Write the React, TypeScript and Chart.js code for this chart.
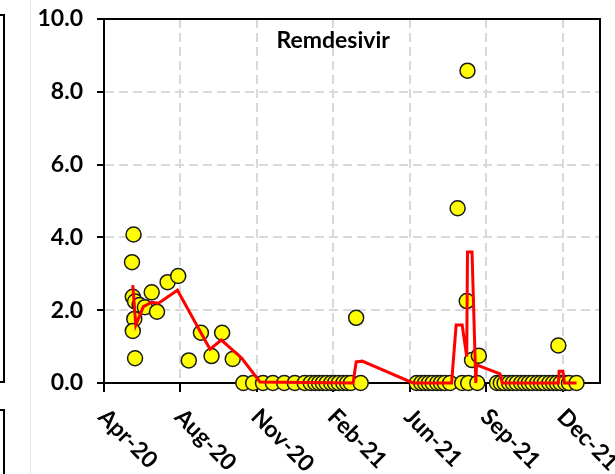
import React, { useEffect, useRef } from "react";
import { Chart, registerables } from "chart.js";

Chart.register(...registerables);

// Axis: days counted from the first tick (Apr-20); one tick every 101 days
const tickDays = [0, 101, 202, 303, 404, 505, 606];
const tickLabels = ["Apr-20", "Aug-20", "Nov-20", "Feb-21", "Jun-21", "Sep-21", "Dec-21"];
const xMaxDay = 655;
const yMin = 0;
const yMax = 10;
const yStep = 2;
const titleText = "Remdesivir";

// Individual observations (yellow circles)
const sampleDays = [
  37, 39, 38, 41, 47, 54, 63, 70, 40, 38, 41, 84, 98, 112, 128, 142, 156, 170,
  184, 197, 210, 223, 238, 252, 265, 273, 279, 284, 289, 294, 300, 305, 310, 316, 321, 326, 333, 339,
  413, 419, 424, 429, 434, 440, 445, 450, 457, 467, 473, 479, 480, 481, 486, 493, 495,
  519, 524, 529, 535, 540, 545, 551, 556, 561, 566, 572, 577, 582, 588, 593, 598, 600, 603, 609, 614, 624,
];
const sampleValues = [
  3.32, 4.08, 2.37, 2.24, 2.14, 2.08, 2.49, 1.96, 1.76, 1.43, 0.68, 2.77, 2.94, 0.62, 1.38, 0.74, 1.38, 0.66,
  0, 0, 0, 0, 0, 0, 0, 0, 0, 0, 0, 0, 0, 0, 0, 0, 0, 0, 1.79, 0,
  0, 0, 0, 0, 0, 0, 0, 0, 0, 4.8, 0, 2.25, 8.58, 0, 0.63, 0, 0.75,
  0, 0, 0, 0, 0, 0, 0, 0, 0, 0, 0, 0, 0, 0, 0, 0, 1.03, 0, 0, 0, 0,
];

// Trend line (red)
const trendDays = [
  38, 42, 52, 63, 72, 97, 140, 155, 182, 206, 329, 333, 341, 408, 459, 465, 473, 479, 480, 486, 491, 492, 523, 526,
  600, 601, 606, 608, 624,
];
const trendValues = [
  2.69, 1.59, 2.1, 2.22, 2.19, 2.55, 0.93, 1.18, 0.68, 0.03, 0, 0.58, 0.6, 0, 0, 1.59, 1.59, 0.73, 3.6, 3.6, 0, 0.5,
  0.25, 0, 0, 0.32, 0.32, 0, 0,
];

const FONT = "Lato";

const decorPlugin = {
  id: "decor",
  afterDraw(chart: any) {
    const { ctx, chartArea } = chart;
    const { left, right, top, bottom } = chartArea;
    ctx.save();
    // top and right frame of the plot area
    ctx.strokeStyle = "#000";
    ctx.lineWidth = 2;
    ctx.setLineDash([]);
    ctx.beginPath();
    ctx.moveTo(left - 1, top);
    ctx.lineTo(right, top);
    ctx.lineTo(right, bottom);
    ctx.stroke();

    // title inside the plot
    ctx.fillStyle = "#000";
    ctx.font = `bold 23px ${FONT}`;
    ctx.textAlign = "center";
    ctx.textBaseline = "alphabetic";
    ctx.fillText(titleText, left + (right - left) * 0.462, top + 29);

    // rotated x tick labels (clockwise 45deg, starting at the tick)
    const xs = chart.scales.x;
    ctx.font = `bold 23px ${FONT}`;
    ctx.textAlign = "left";
    ctx.textBaseline = "middle";
    xs.ticks.forEach((t: any, i: number) => {
      const px = xs.getPixelForValue(t.value);
      ctx.save();
      ctx.translate(px - 2, bottom + 30);
      ctx.rotate(Math.PI / 4);
      ctx.fillText(tickLabels[i] ?? "", 0, 0);
      ctx.restore();
    });
    ctx.restore();
  },
};

export default function App() {
  const canvasRef = useRef<HTMLCanvasElement | null>(null);

  useEffect(() => {
    if (!canvasRef.current) return;
    const chart = new Chart(canvasRef.current, {
      type: "scatter",
      data: {
        datasets: [
          {
            type: "line",
            label: "trend",
            data: trendDays.map((d, i) => ({ x: d, y: trendValues[i] })),
            borderColor: "#FF0000",
            borderWidth: 3,
            pointRadius: 0,
            fill: false,
            tension: 0,
            clip: false as any,
            order: 0,
          } as any,
          {
            type: "scatter",
            label: titleText,
            data: sampleDays.map((d, i) => ({ x: d, y: sampleValues[i] })),
            backgroundColor: "#FFFF00",
            borderColor: "#1a1a1a",
            borderWidth: 1.5,
            pointRadius: 7.5,
            clip: false as any,
            order: 1,
          } as any,
        ],
      },
      options: {
        responsive: false,
        animation: false,
        layout: { padding: { left: 0, top: 19, right: 15, bottom: 0 } },
        plugins: {
          legend: { display: false },
          tooltip: { enabled: false },
          title: { display: false },
        },
        scales: {
          x: {
            type: "linear",
            min: 0,
            max: xMaxDay,
            afterBuildTicks: (s: any) => {
              s.ticks = tickDays.map((v) => ({ value: v }));
            },
            afterFit: (s: any) => {
              s.height = 91;
              s.paddingLeft = 0;
              s.paddingRight = 0;
            },
            ticks: { display: false },
            grid: {
              color: (c: any) => (c.tick && c.tick.value === 0 ? "rgba(0,0,0,0)" : "#d9d9d9"),
              lineWidth: 2,
              drawTicks: true,
              tickLength: 9,
              tickColor: "#000",
              tickWidth: 2,
            },
            border: { display: true, color: "#000", width: 2, dash: [9, 5] },
          },
          y: {
            min: yMin,
            max: yMax,
            afterFit: (s: any) => {
              s.width = 104;
              s.paddingTop = 0;
              s.paddingBottom = 0;
            },
            ticks: {
              stepSize: yStep,
              callback: (v: any) => Number(v).toFixed(1),
              font: { family: FONT, size: 23, weight: "bold" },
              color: "#000",
              padding: 14,
            },
            grid: {
              color: (c: any) =>
                c.tick && (c.tick.value === yMin || c.tick.value === yMax) ? "rgba(0,0,0,0)" : "#d9d9d9",
              lineWidth: 2,
              tickLength: 7,
              tickColor: "#000",
              tickWidth: 2,
            },
            border: { display: true, color: "#000", width: 2, dash: [9, 5] },
          },
        },
      } as any,
      plugins: [decorPlugin],
    });
    return () => chart.destroy();
  }, []);

  return (
    <div
      style={{
        position: "absolute",
        left: 0,
        top: 0,
        width: 615,
        height: 474,
        overflow: "hidden",
        background: "#fff",
      }}
    >
      <div
        style={{
          position: "absolute",
          left: -20,
          top: 14,
          width: 25,
          height: 369,
          boxSizing: "border-box",
          border: "2px solid #000",
        }}
      />
      <div
        style={{
          position: "absolute",
          left: -20,
          top: 409,
          width: 25,
          height: 120,
          boxSizing: "border-box",
          border: "2px solid #000",
        }}
      />
      <div
        style={{ position: "absolute", left: 30, top: 0, width: 1, height: 474, background: "#e6e6e6" }}
      />
      <canvas
        ref={canvasRef}
        width={615}
        height={474}
        style={{ position: "absolute", left: 0, top: 0, display: "block" }}
      />
    </div>
  );
}
